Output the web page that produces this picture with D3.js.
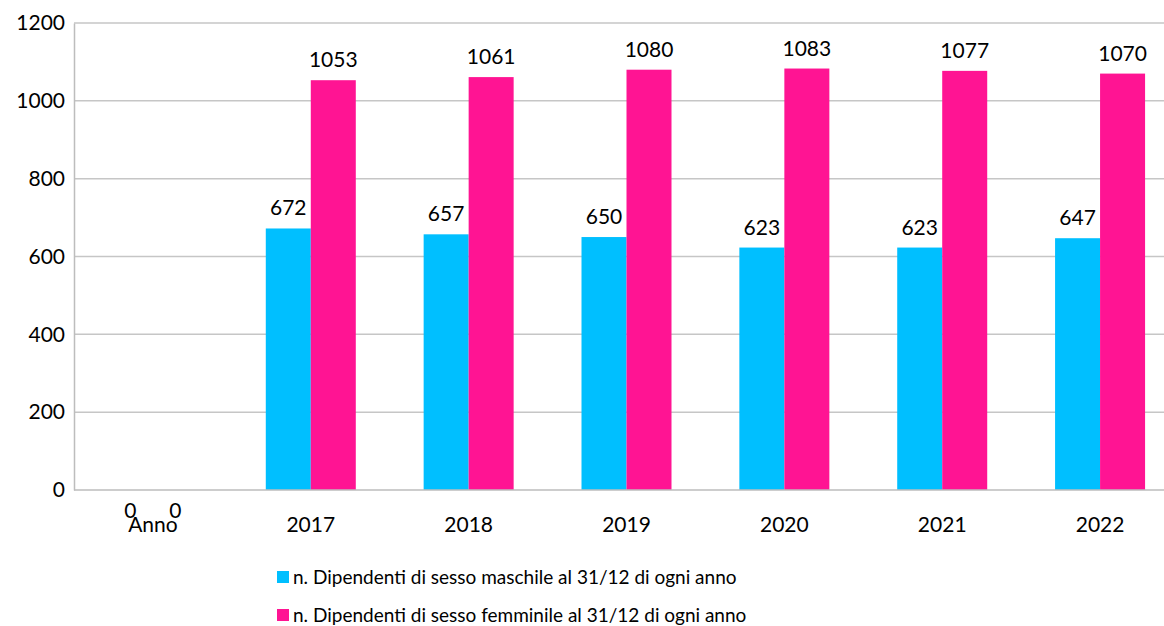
<!DOCTYPE html>
<html>
<head>
<meta charset="utf-8">
<script src="https://cdn.jsdelivr.net/npm/d3@7"></script>
<style>
  html, body { margin: 0; padding: 0; background: #fff; }
  svg { display: block; font-family: Lato, "Open Sans", sans-serif; }
</style>
</head>
<body>
<svg id="chart" width="1164" height="626"></svg>
<script>
// Headcount at 31/12 of each year, by sex
const categories = ["Anno", "2017", "2018", "2019", "2020", "2021", "2022"];
const maleValues = [0, 672, 657, 650, 623, 623, 647];
const femaleValues = [0, 1053, 1061, 1080, 1083, 1077, 1070];
const seriesNames = [
  "n. Dipendenti di sesso maschile al 31/12 di ogni anno",
  "n. Dipendenti di sesso femminile al 31/12 di ogni anno"
];
const yTicks = [0, 200, 400, 600, 800, 1000, 1200];
const colors = ["#00BFFF", "#FF1493"];

const svg = d3.select("#chart");
const margin = { left: 74, top: 23, right: -15, bottom: 136 };
const W = 1164, H = 626;
const x0 = margin.left, x1 = W - margin.right;
const yTop = margin.top, yBot = H - margin.bottom;
const FONT = 21;

const x = d3.scaleBand().domain(categories).range([x0, x1]).paddingInner(0).paddingOuter(0);
const xs = d3.scaleBand().domain([0, 1]).range([0, 90]);
const bandOffset = (x.bandwidth() - 90) / 2;
const y = d3.scaleLinear().domain([0, 1200]).range([yBot, yTop]);

// Gridlines
svg.append("g")
  .selectAll("line")
  .data(yTicks.filter(d => d > 0))
  .join("line")
  .attr("x1", x0).attr("x2", x1)
  .attr("y1", d => y(d)).attr("y2", d => y(d))
  .attr("stroke", "#c6c6c6").attr("stroke-width", 1.5);

// Y axis
const yAxis = svg.append("g")
  .attr("transform", `translate(${x0},0)`)
  .call(d3.axisLeft(y).tickValues(yTicks).tickFormat(d3.format("d")).tickSize(0).tickPadding(9));
yAxis.select(".domain").attr("stroke", "#bdbdbd").attr("stroke-width", 1.5);
yAxis.selectAll("text").attr("font-size", FONT).attr("fill", "#000")
  .attr("font-family", "Lato, 'Open Sans', sans-serif");

// Bars
const series = [maleValues, femaleValues];
const groups = svg.append("g");
series.forEach((vals, si) => {
  groups.append("g")
    .selectAll("rect")
    .data(categories.map((c, i) => ({ c, v: vals[i] })))
    .join("rect")
    .attr("x", d => x(d.c) + bandOffset + xs(si))
    .attr("width", xs.bandwidth())
    .attr("y", d => y(d.v))
    .attr("height", d => y(0) - y(d.v))
    .attr("fill", colors[si]);
});

// Value labels (zero values sit just below the baseline)
series.forEach((vals, si) => {
  svg.append("g")
    .selectAll("text")
    .data(categories.map((c, i) => ({ c, v: vals[i] })))
    .join("text")
    .attr("x", d => x(d.c) + bandOffset + xs(si) + xs.bandwidth() / 2)
    .attr("y", d => d.v === 0 ? y(0) + 28 : y(d.v) - 13)
    .attr("text-anchor", "middle")
    .attr("font-size", FONT)
    .attr("fill", "#000")
    .text(d => d.v);
});

// X axis
svg.append("line")
  .attr("x1", x0).attr("x2", x1)
  .attr("y1", y(0)).attr("y2", y(0))
  .attr("stroke", "#bdbdbd").attr("stroke-width", 1.5);
const xAxis = svg.append("g")
  .attr("transform", `translate(0,${y(0)})`)
  .call(d3.axisBottom(x).tickSize(0));
xAxis.select(".domain").remove();
xAxis.selectAll("text")
  .attr("y", 42).attr("dy", 0)
  .attr("font-size", FONT).attr("fill", "#000")
  .attr("font-family", "Lato, 'Open Sans', sans-serif");

// Legend
const legend = svg.append("g");
seriesNames.forEach((name, i) => {
  const ly = 577 + i * 38;
  legend.append("rect")
    .attr("x", 277).attr("y", ly - 6).attr("width", 12).attr("height", 12)
    .attr("fill", colors[i]);
  legend.append("text")
    .attr("x", 293).attr("y", ly + 7)
    .attr("font-size", 19).attr("fill", "#000")
    .text(name);
});
</script>
</body>
</html>
